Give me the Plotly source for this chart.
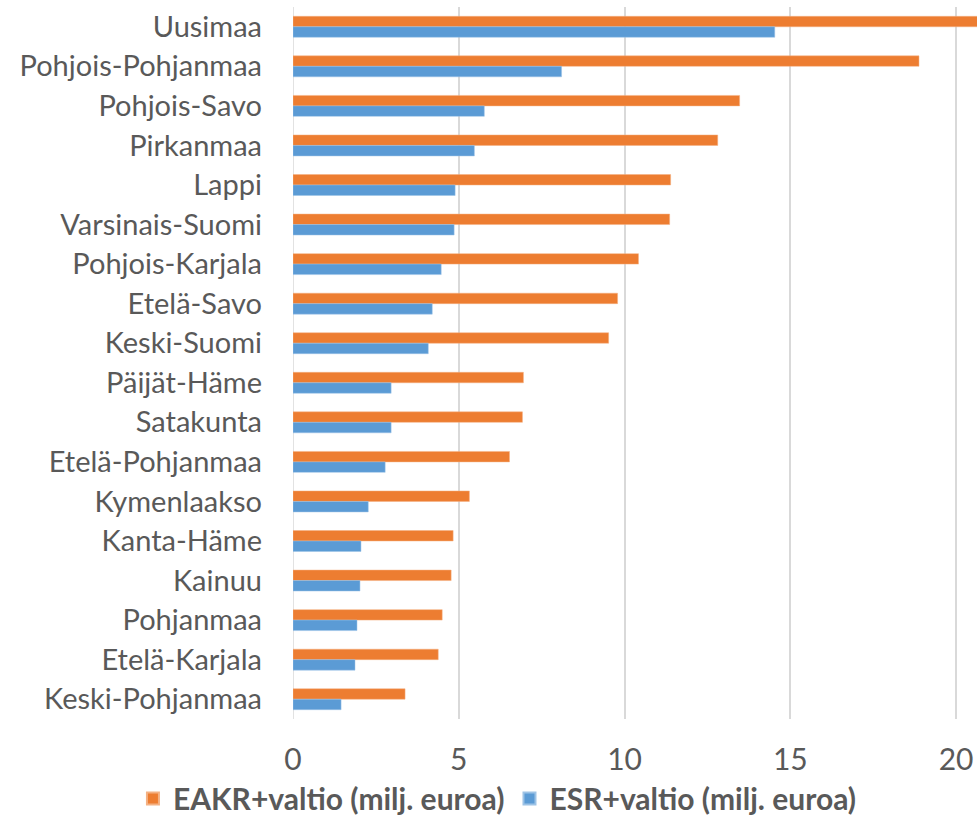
import plotly.graph_objects as go

regions = ["Uusimaa", "Pohjois-Pohjanmaa", "Pohjois-Savo", "Pirkanmaa", "Lappi",
           "Varsinais-Suomi", "Pohjois-Karjala", "Etelä-Savo", "Keski-Suomi",
           "Päijät-Häme", "Satakunta", "Etelä-Pohjanmaa", "Kymenlaakso",
           "Kanta-Häme", "Kainuu", "Pohjanmaa", "Etelä-Karjala", "Keski-Pohjanmaa"]
eakr = [21.5, 18.88, 13.47, 12.81, 11.39, 11.36, 10.42, 9.79, 9.52,
        6.95, 6.92, 6.53, 5.32, 4.83, 4.77, 4.50, 4.38, 3.38]
esr = [14.53, 8.10, 5.77, 5.47, 4.89, 4.86, 4.47, 4.20, 4.08,
       2.96, 2.96, 2.78, 2.27, 2.05, 2.02, 1.93, 1.87, 1.45]
tick_vals = [0, 5, 10, 15, 20]

FONT = "Lato"
GRAY = "#595959"

fig = go.Figure()
fig.add_trace(go.Bar(y=regions, x=eakr, orientation="h", name="EAKR+valtio (milj. euroa)",
                     marker=dict(color="#ED7D31", line=dict(color="#F4B183", width=0.5))))
fig.add_trace(go.Bar(y=regions, x=esr, orientation="h", name="ESR+valtio (milj. euroa)",
                     marker=dict(color="#5B9BD5", line=dict(color="#9DC3E6", width=0.5))))

fig.update_layout(
    width=977, height=826,
    margin=dict(l=293, r=0, t=7, b=107),
    paper_bgcolor="white", plot_bgcolor="white",
    barmode="group", bargap=0.47, bargroupgap=0,
    font=dict(family=FONT, color=GRAY, size=29),
    hovermode=False,
    showlegend=True,
    legend=dict(orientation="h", x=-0.234, xanchor="left",
                y=-0.075, yanchor="top",
                font=dict(family=FONT, size=30, color=GRAY, weight="bold"),
                itemsizing="constant", traceorder="normal"),
    xaxis=dict(range=[0, 20.63], tickvals=tick_vals, showgrid=True, gridcolor="#D9D9D9",
               gridwidth=1.5, zeroline=False, showline=False, ticks="",
               tickfont=dict(size=30, color=GRAY, family=FONT), ticklabelstandoff=20),
    yaxis=dict(autorange="reversed", showgrid=False, zeroline=False, showline=False,
               ticks="", tickfont=dict(size=29, color=GRAY, family=FONT),
               ticklabelstandoff=30),
)
fig.add_shape(type="line", xref="x", yref="paper", x0=0, x1=0, y0=0, y1=1,
              line=dict(color="#D9D9D9", width=1.5), layer="below")

fig.write_html(
    "out.html",
    config={"displayModeBar": False},
    post_script="document.body.style.margin='0';"
                "document.body.style.overflow='hidden';"
                "document.documentElement.style.overflow='hidden';",
)
